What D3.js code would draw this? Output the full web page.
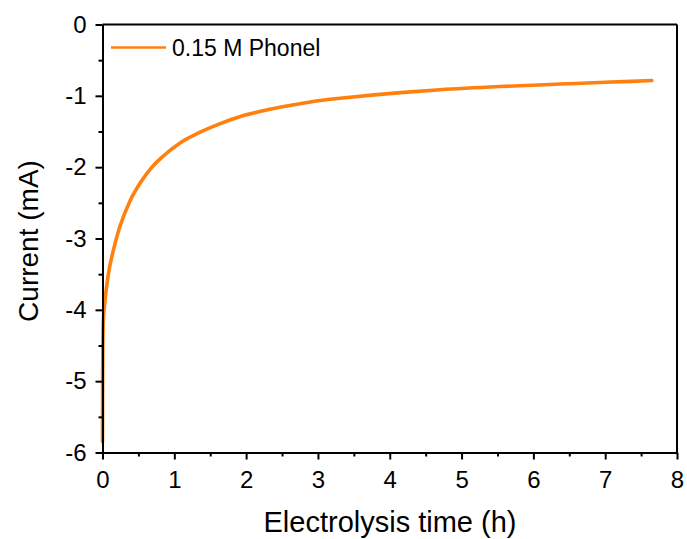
<!DOCTYPE html>
<html>
<head>
<meta charset="utf-8">
<script src="https://cdn.jsdelivr.net/npm/d3@7/dist/d3.min.js"></script>
<style>
  html, body { margin: 0; padding: 0; background: #fff; }
  svg { display: block; font-family: "Liberation Sans", Arial, sans-serif; }
</style>
</head>
<body>
<svg id="chart" width="687" height="539"></svg>
<script>
// Chronoamperometry trace: time (h) vs current (mA)
const timeH = [0, 0.002, 0.005, 0.012, 0.035, 0.08, 0.15, 0.24, 0.38, 0.52, 0.68, 0.84,
  1.08, 1.36, 1.64, 1.92, 2.19, 2.47, 2.75, 3.0, 3.45, 4.15, 4.7, 5.54, 6.37, 7.0, 7.65];
const currentMA = [-5.85, -5.0, -4.5, -4.15, -3.87, -3.51, -3.17, -2.84, -2.48, -2.23, -2.01, -1.85,
  -1.66, -1.51, -1.39, -1.29, -1.22, -1.16, -1.11, -1.07, -1.02, -0.955, -0.915, -0.87, -0.835, -0.81, -0.786];
const seriesName = "0.15 M Phonel";

const xMajor = [0, 1, 2, 3, 4, 5, 6, 7, 8];
const xMinor = [0.5, 1.5, 2.5, 3.5, 4.5, 5.5, 6.5, 7.5];
const yMajor = [0, -1, -2, -3, -4, -5, -6];
const yMinor = [-0.5, -1.5, -2.5, -3.5, -4.5, -5.5];

const svg = d3.select("#chart");
const L = 102.5, R = 677, T = 24.5, B = 452.5;
const orange = "#ff800e";

const x = d3.scaleLinear().domain([0, 8]).range([L, R]);
const y = d3.scaleLinear().domain([-6, 0]).range([B, T]);

const data = timeH.map((t, i) => ({ t, c: currentMA[i] }));

// trace
svg.append("path")
  .datum(data)
  .attr("fill", "none")
  .attr("stroke", orange)
  .attr("stroke-width", 3.6)
  .attr("stroke-linejoin", "round")
  .attr("stroke-linecap", "round")
  .attr("d", d3.line().x(d => x(d.t)).y(d => y(d.c)).curve(d3.curveMonotoneX));

// frame (top and right)
svg.append("line").attr("x1", L).attr("x2", R).attr("y1", T).attr("y2", T)
  .attr("stroke", "#000").attr("stroke-width", 2);
svg.append("line").attr("x1", R).attr("x2", R).attr("y1", T).attr("y2", B)
  .attr("stroke", "#000").attr("stroke-width", 2);

function styleAxis(g) {
  g.selectAll("path").attr("stroke", "#000").attr("stroke-width", 2);
  g.selectAll("line").attr("stroke", "#000").attr("stroke-width", 2);
  g.selectAll("text").attr("fill", "#000").attr("font-size", 24)
    .attr("font-family", "'Liberation Sans', Arial, sans-serif");
}

// x axis
const gx = svg.append("g").attr("transform", `translate(0,${B})`)
  .call(d3.axisBottom(x).tickValues(xMajor).tickSize(7).tickSizeOuter(0).tickPadding(11).tickFormat(d3.format("d")));
styleAxis(gx);
const gxm = svg.append("g").attr("transform", `translate(0,${B})`)
  .call(d3.axisBottom(x).tickValues(xMinor).tickSize(4).tickFormat(""));
styleAxis(gxm);
gxm.select("path").remove();

// y axis
const gy = svg.append("g").attr("transform", `translate(${L},0)`)
  .call(d3.axisLeft(y).tickValues(yMajor).tickSize(7).tickSizeOuter(0).tickPadding(9)
    .tickFormat(d => d === 0 ? "0" : "-" + Math.abs(d)));
styleAxis(gy);
const gym = svg.append("g").attr("transform", `translate(${L},0)`)
  .call(d3.axisLeft(y).tickValues(yMinor).tickSize(4).tickFormat(""));
styleAxis(gym);
gym.select("path").remove();

// axis titles
svg.append("text")
  .attr("x", 390).attr("y", 532)
  .attr("text-anchor", "middle").attr("font-size", 29).attr("fill", "#000")
  .text("Electrolysis time (h)");
svg.append("text")
  .attr("transform", `translate(38,241) rotate(-90)`)
  .attr("text-anchor", "middle").attr("font-size", 28).attr("fill", "#000")
  .text("Current (mA)");

// legend
svg.append("line").attr("x1", 111).attr("x2", 166).attr("y1", 47.5).attr("y2", 47.5)
  .attr("stroke", orange).attr("stroke-width", 2.5);
svg.append("text").attr("x", 172).attr("y", 55.5)
  .attr("font-size", 23).attr("fill", "#000").text(seriesName);
</script>
</body>
</html>
